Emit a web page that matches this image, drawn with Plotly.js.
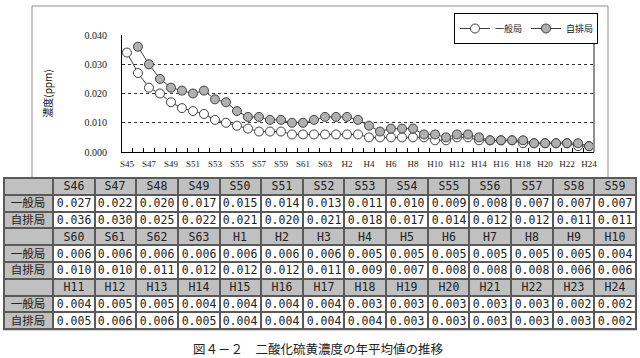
<!DOCTYPE html>
<html>
<head>
<meta charset="utf-8">
<script src="https://cdn.plot.ly/plotly-3.0.1.min.js"></script>
<style>
html,body{margin:0;padding:0;background:#fff;}
#chart{width:640px;height:358px;}
</style>
</head>
<body>
<div id="chart"></div>
<script>
// ---- data ----
const years = ["S45","S46","S47","S48","S49","S50","S51","S52","S53","S54","S55","S56","S57","S58","S59","S60","S61","S62","S63",
  "H1","H2","H3","H4","H5","H6","H7","H8","H9","H10","H11","H12","H13","H14","H15","H16","H17","H18","H19","H20","H21","H22","H23","H24"];
const ippan = [0.034,0.027,0.022,0.020,0.017,0.015,0.014,0.013,0.011,0.010,0.009,0.008,0.007,0.007,0.007,0.006,0.006,0.006,0.006,
  0.006,0.006,0.006,0.005,0.005,0.005,0.005,0.005,0.005,0.004,0.004,0.005,0.005,0.004,0.004,0.004,0.004,0.003,0.003,0.003,0.003,0.003,0.002,0.002];
const jihai = [null,0.036,0.030,0.025,0.022,0.021,0.020,0.021,0.018,0.017,0.014,0.012,0.012,0.011,0.011,0.010,0.010,0.011,0.012,
  0.012,0.012,0.011,0.009,0.007,0.008,0.008,0.008,0.006,0.006,0.005,0.006,0.006,0.005,0.004,0.004,0.004,0.004,0.003,0.003,0.003,0.003,0.003,0.002];
const seriesNames = ["一般局","自排局"];
const tableBlocks = [[1,15],[15,29],[29,43]]; // index ranges of years shown in the table
const caption = "図４－２　二酸化硫黄濃度の年平均値の推移";
const yTitle = "濃度(ppm)";

// ---- helpers ----
const W = 640, H = 358;
const px = v => v / W;
const py = v => 1 - v / H;
const tickText = years.map((y, i) => (i % 2 === 0 ? y : ""));

// ---- table (drawn as a heatmap grid) ----
const TBL_L = 4, TBL_R = 636, TBL_T = 178, ROWH = 16.8, NROWS = 9;
const TBL_B = TBL_T + ROWH * NROWS;
const colW = [49]; for (let i = 0; i < 14; i++) colW.push(41.67);
const colEdges = [0]; colW.forEach(w => colEdges.push(colEdges[colEdges.length - 1] + w));
const zRows = [], tRows = [], rowIdx = [];
tableBlocks.forEach(blk => {
  const yrs = years.slice(blk[0], blk[1]);
  const a = ippan.slice(blk[0], blk[1]).map(v => v.toFixed(3));
  const b = jihai.slice(blk[0], blk[1]).map(v => v.toFixed(3));
  [["", ...yrs], [seriesNames[0], ...a], [seriesNames[1], ...b]].forEach((r, ri) => {
    tRows.push(r);
    zRows.push(r.map((_, c) => (c === 0 || ri === 0 ? 0 : 1)));
    rowIdx.push(rowIdx.length);
  });
});

const traces = [
  {
    type: "scatter", mode: "lines+markers", name: seriesNames[0],
    x: years, y: ippan,
    line: {color: "#404040", width: 1},
    marker: {symbol: "circle", size: 9, color: "#ffffff", line: {color: "#404040", width: 1}},
    hoverinfo: "x+y"
  },
  {
    type: "scatter", mode: "lines+markers", name: seriesNames[1],
    x: years, y: jihai,
    line: {color: "#404040", width: 1},
    marker: {symbol: "circle", size: 9, color: "#b0b0b0", line: {color: "#404040", width: 1}},
    hoverinfo: "x+y"
  },
  {
    type: "heatmap", xaxis: "x2", yaxis: "y2",
    x: colEdges, y: rowIdx, z: zRows, text: tRows,
    texttemplate: "%{text}",
    textfont: {family: "DejaVu Sans Mono, Noto Sans CJK JP", size: 11.5, color: "#222"},
    colorscale: [[0, "#c0c0c0"], [1, "#ffffff"]], zmin: 0, zmax: 1,
    showscale: false, xgap: 2, ygap: 2, hoverinfo: "skip", showlegend: false
  }
];

const layout = {
  width: W, height: H,
  margin: {l: 0, r: 0, t: 0, b: 0},
  paper_bgcolor: "#ffffff", plot_bgcolor: "rgba(0,0,0,0)",
  showlegend: true,
  legend: {
    orientation: "h", x: px(598), xanchor: "right", y: py(13), yanchor: "top",
    bordercolor: "#000", borderwidth: 1, bgcolor: "#fff",
    font: {family: "Noto Sans CJK JP", size: 9, color: "#111"},
    itemwidth: 30, entrywidth: 26, tracegroupgap: 0
  },
  xaxis: {
    domain: [px(122), px(594)],
    type: "category",
    range: [-0.45, 42.45],
    tickmode: "array", tickvals: years, ticktext: tickText,
    tickson: "boundaries",
    ticks: "inside", ticklen: 4, tickcolor: "#000",
    showgrid: false, showline: true, linecolor: "#000", linewidth: 1,
    tickfont: {family: "Liberation Serif, serif", size: 9, color: "#222"},
    ticklabelstandoff: 3,
    tickangle: 0, fixedrange: true
  },
  yaxis: {
    domain: [py(152), py(35)],
    range: [0, 0.04], dtick: 0.01, tick0: 0,
    tickformat: ".3f",
    showgrid: true, gridcolor: "#333", griddash: "dot", gridwidth: 1,
    zeroline: false,
    showline: true, linecolor: "#000", linewidth: 1,
    ticks: "", ticklabelstandoff: 12,
    tickfont: {family: "Liberation Serif, serif", size: 10, color: "#222"},
    title: {text: yTitle, font: {family: "Noto Sans CJK JP", size: 10, color: "#111"}, standoff: 30},
    fixedrange: true
  },
  xaxis2: {
    domain: [px(TBL_L), px(TBL_R)], anchor: "y2",
    range: [0, colEdges[colEdges.length - 1]], visible: false, fixedrange: true
  },
  yaxis2: {
    domain: [py(TBL_B), py(TBL_T)], anchor: "x2",
    range: [NROWS - 0.5, -0.5], visible: false, fixedrange: true
  },
  shapes: [
    {type: "rect", xref: "paper", yref: "paper", x0: px(32), x1: px(608), y0: py(TBL_T), y1: py(6),
     line: {color: "#909090", width: 1}, fillcolor: "rgba(0,0,0,0)", layer: "below"},
    {type: "line", xref: "paper", yref: "paper", x0: px(594), x1: px(594), y0: py(152), y1: py(35),
     line: {color: "#909090", width: 2}},
    {type: "rect", xref: "paper", yref: "paper", x0: px(TBL_L - 1), x1: px(TBL_R + 1), y0: py(TBL_B + 1), y1: py(TBL_T - 1),
     line: {width: 0}, fillcolor: "#5a5a5a", layer: "below"}
  ],
  annotations: [
    {text: caption, xref: "paper", yref: "paper", x: px(318), y: py(348), xanchor: "center", yanchor: "middle",
     showarrow: false, font: {family: "Noto Sans CJK JP", size: 12.5, color: "#222"}}
  ]
};

Plotly.newPlot("chart", traces, layout, {displayModeBar: false, staticPlot: true});
</script>
</body>
</html>
